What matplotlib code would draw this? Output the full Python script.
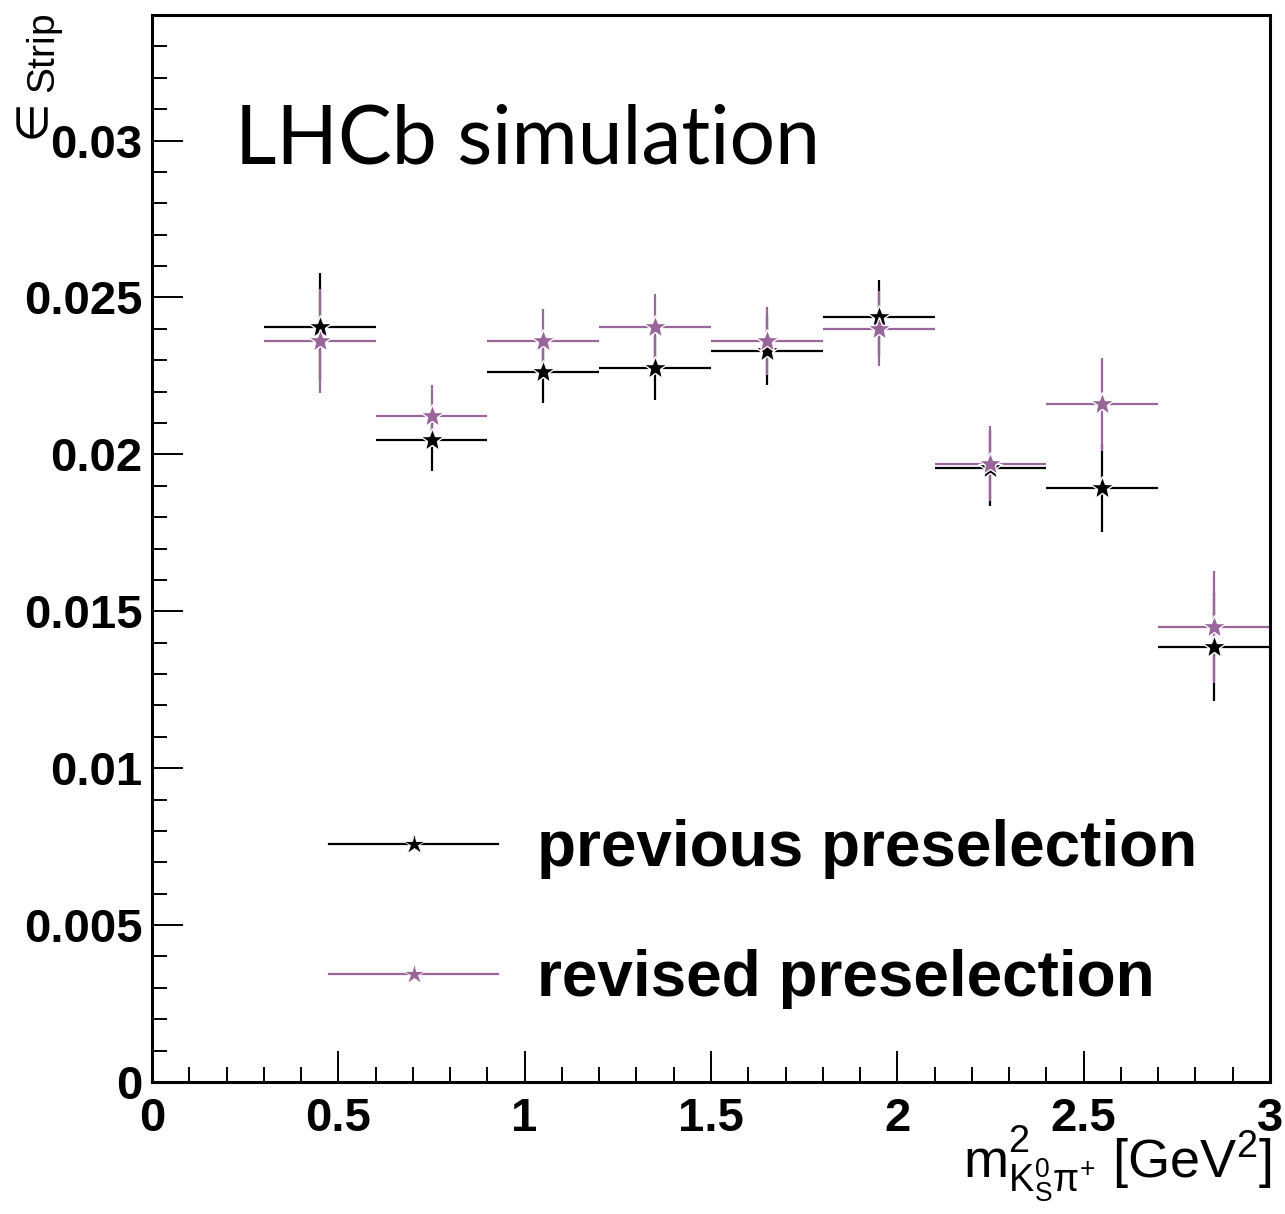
import matplotlib
matplotlib.use('Agg')
import matplotlib.pyplot as plt
from matplotlib.lines import Line2D
from matplotlib.ticker import MultipleLocator, FormatStrFormatter

# bin centres and half widths in m^2 [GeV^2]
bin_centers = [0.45, 0.75, 1.05, 1.35, 1.65, 1.95, 2.25, 2.55, 2.85]
bin_half_width = [0.15] * 9

eff_previous = [0.02405, 0.02047, 0.02262, 0.02276, 0.02330, 0.02437, 0.01956, 0.01893, 0.01386]
err_previous = [0.00172, 0.00099, 0.00099, 0.00102, 0.00110, 0.00120, 0.00120, 0.00139, 0.00173]

eff_revised = [0.02361, 0.02122, 0.02362, 0.02405, 0.02360, 0.02401, 0.01970, 0.02160, 0.01450]
err_revised = [0.00167, 0.00100, 0.00102, 0.00105, 0.00108, 0.00120, 0.00120, 0.00148, 0.00177]

labels = ['previous preselection', 'revised preselection']
colors = ['black', '#996699']

plt.rcParams['font.family'] = ['Liberation Sans', 'DejaVu Sans']
plt.rcParams['mathtext.fontset'] = 'custom'
plt.rcParams['mathtext.rm'] = 'Liberation Sans'
plt.rcParams['mathtext.it'] = 'Liberation Sans'
plt.rcParams['mathtext.bf'] = 'Liberation Sans:bold'

fig = plt.figure(figsize=(12.85, 12.14), dpi=100)
ax = fig.add_axes([152 / 1285, 132 / 1214, 1118 / 1285, 1067 / 1214])

series = [(eff_previous, err_previous), (eff_revised, err_revised)]
for (vals, errs), col in zip(series, colors):
    ax.errorbar(bin_centers, vals, xerr=bin_half_width, yerr=errs, fmt='none',
                ecolor=col, elinewidth=1.6, capsize=0, zorder=2)
for (vals, errs), col in zip(series, colors):
    ax.plot(bin_centers, vals, linestyle='none', marker='*', markersize=18,
            color=col, markeredgecolor='white', markeredgewidth=1.0, zorder=3)

ax.set_xlim(0, 3)
ax.set_ylim(0, 0.034)

ax.xaxis.set_major_locator(MultipleLocator(0.5))
ax.xaxis.set_minor_locator(MultipleLocator(0.1))
ax.yaxis.set_major_locator(MultipleLocator(0.005))
ax.yaxis.set_minor_locator(MultipleLocator(0.001))
ax.xaxis.set_major_formatter(FormatStrFormatter('%g'))
ax.yaxis.set_major_formatter(FormatStrFormatter('%g'))

ax.tick_params(which='both', direction='in', top=False, right=False, width=1.4, color='black')
ax.tick_params(which='major', length=22)
ax.tick_params(which='minor', length=11)
ax.tick_params(axis='x', which='major', pad=11)
ax.tick_params(axis='y', which='major', pad=7)
for lab in ax.get_xticklabels() + ax.get_yticklabels():
    lab.set_fontsize(34)
    lab.set_fontweight('bold')
for sp in ax.spines.values():
    sp.set_linewidth(2.2)

# axis titles, ROOT style
fig.text(1272 / 1285, 1 - 1178 / 1214,
         r'$\mathregular{m^{2}_{K^{0}_{S}\pi^{+}}}$ [GeV$^{2}$]',
         ha='right', va='baseline', fontsize=39)
fig.text(14 / 1285, 1 - 14 / 1214, r'$\mathregular{\in_{Strip}}$',
         rotation=90, ha='left', va='top', fontsize=40)

ax.text(235 / 1285, 1 - 140 / 1214, 'LHCb simulation', transform=fig.transFigure,
        ha='left', va='center', fontsize=58, family=['Lato', 'DejaVu Sans'])

handles = [Line2D([], [], color=c, linewidth=1.6, marker='*', markersize=16,
                  markeredgecolor='white', markeredgewidth=0.6) for c in colors]
leg = fig.legend(handles, labels, loc='center left', bbox_to_anchor=(329 / 1285, 1 - 914 / 1214),
                 bbox_transform=fig.transFigure, frameon=False, borderpad=0, borderaxespad=0,
                 handlelength=2.65, handletextpad=0.6, labelspacing=1.1,
                 prop={'family': ['Liberation Sans Narrow', 'Liberation Sans'], 'weight': 'bold', 'size': 46})

fig.savefig('out.png', dpi=100)
